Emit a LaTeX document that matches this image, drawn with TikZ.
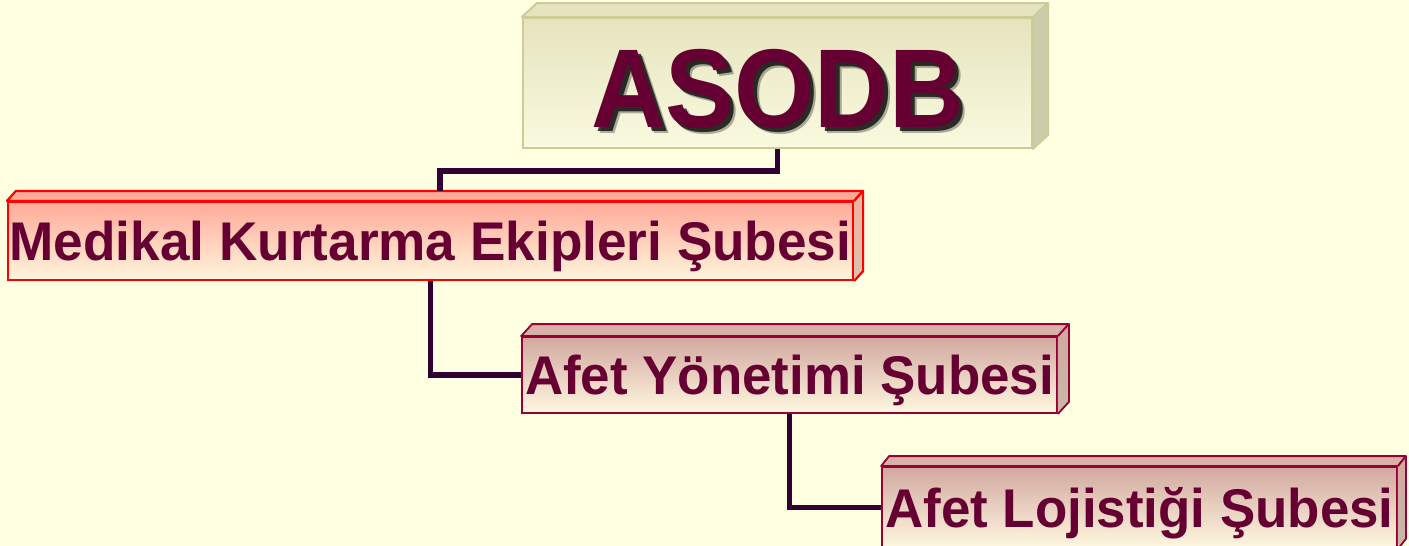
\documentclass[tikz,border=0pt]{standalone}
\usepackage{fontspec}
\setmainfont{Liberation Sans}
\usepackage{graphicx}
\usetikzlibrary{calc}
\definecolor{bgc}{HTML}{FFFFE1}
\definecolor{txtc}{HTML}{660033}
\definecolor{connc}{HTML}{330033}
\definecolor{oliveb}{HTML}{CCCC99}
\definecolor{olivetop}{HTML}{E6E4BE}
\definecolor{olivebot}{HTML}{FAFAE0}
\definecolor{oliveside}{HTML}{CCCCAA}
\definecolor{redb}{HTML}{FF0000}
\definecolor{saltop}{HTML}{FFAA99}
\definecolor{salbot}{HTML}{FFF6DC}
\definecolor{salside}{HTML}{D8C4B0}
\definecolor{wineb}{HTML}{990033}
\definecolor{rosetop}{HTML}{D2A8A0}
\definecolor{rosebot}{HTML}{FFF8E0}
\definecolor{roseside}{HTML}{C8B8A8}
\begin{document}
\begin{tikzpicture}[x=1pt,y=-1pt,
  conn/.style={draw=connc, line width=5.5pt, line join=miter},
  frontbox/.style={rectangle, inner sep=0pt, text=txtc,
     font=\bfseries\fontsize{54.5}{60}\selectfont, text height=39pt, text depth=0pt},
  asodbbox/.style={frontbox, draw=oliveb, line width=2pt, top color=olivetop, bottom color=olivebot},
  medbox/.style={frontbox, draw=redb, line width=2.2pt, top color=saltop, bottom color=salbot},
  rosebox/.style={frontbox, draw=wineb, line width=1.8pt, top color=rosetop, bottom color=rosebot},
  bigtext/.style={inner sep=0pt, font=\bfseries\fontsize{112}{120}\selectfont, text height=80pt, text depth=0pt}
]
\useasboundingbox (0,0) rectangle (1409,546);
\fill[bgc] (0,0) rectangle (1409,546);

% ASODB box
\node[asodbbox, minimum width=509pt, minimum height=130pt] (asodb) at (777.5,83) {};
\filldraw[fill=olivetop, draw=oliveb, line width=2pt, line join=round]
  (asodb.north west) -- ([shift={(15pt,14pt)}]asodb.north west) -- ([shift={(15pt,14pt)}]asodb.north east) -- (asodb.north east) -- cycle;
\filldraw[fill=oliveside, draw=oliveb, line width=2pt, line join=round]
  (asodb.north east) -- ([shift={(15pt,14pt)}]asodb.north east) -- ([shift={(15pt,14pt)}]asodb.south east) -- (asodb.south east) -- cycle;
\node[bigtext, text=black, opacity=0.3] (asodbshadowb) at ([shift={(6pt,-10pt)}]asodb.center) {\scalebox{0.92}[1]{ASODB}};
\node[bigtext, text=black, opacity=0.75] (asodbshadow) at ([shift={(4pt,-8pt)}]asodb.center) {\scalebox{0.92}[1]{ASODB}};
\node[bigtext, text=txtc] (asodbtext) at ([yshift=-4pt]asodb.center) {\scalebox{0.92}[1]{ASODB}};

% Medikal box
\node[medbox, minimum width=845pt, minimum height=78pt] (med) at (430.5,241) {\scalebox{0.975}[1]{Medikal Kurtarma Ekipleri Şubesi}};
\filldraw[fill=saltop, draw=redb, line width=2.2pt, line join=round]
  (med.north west) -- ([shift={(9pt,10pt)}]med.north west) -- ([shift={(9pt,10pt)}]med.north east) -- (med.north east) -- cycle;
\shade[top color=saltop!80!salside, bottom color=salside]
  (med.north east) -- ([shift={(9pt,10pt)}]med.north east) -- ([shift={(9pt,10pt)}]med.south east) -- (med.south east) -- cycle;
\draw[draw=redb, line width=2.2pt, line join=round]
  (med.north east) -- ([shift={(9pt,10pt)}]med.north east) -- ([shift={(9pt,10pt)}]med.south east) -- (med.south east);

% Afet Yonetimi box
\node[rosebox, minimum width=535pt, minimum height=76pt] (ayon) at (789.5,375) {\scalebox{0.97}[1]{Afet Yönetimi Şubesi}};
\filldraw[fill=rosetop!90!white, draw=wineb, line width=1.8pt, line join=round]
  (ayon.north west) -- ([shift={(11pt,12pt)}]ayon.north west) -- ([shift={(11pt,12pt)}]ayon.north east) -- (ayon.north east) -- cycle;
\shade[top color=rosetop, bottom color=roseside]
  (ayon.north east) -- ([shift={(11pt,12pt)}]ayon.north east) -- ([shift={(11pt,12pt)}]ayon.south east) -- (ayon.south east) -- cycle;
\draw[draw=wineb, line width=1.8pt, line join=round]
  (ayon.north east) -- ([shift={(11pt,12pt)}]ayon.north east) -- ([shift={(11pt,12pt)}]ayon.south east) -- (ayon.south east);

% Afet Lojistigi box
\node[rosebox, minimum width=515pt, minimum height=81pt] (aloj) at (1139.5,507.5) {\scalebox{0.97}[1]{Afet Lojistiği Şubesi}};
\filldraw[fill=rosetop!90!white, draw=wineb, line width=1.8pt, line join=round]
  (aloj.north west) -- ([shift={(8pt,10pt)}]aloj.north west) -- ([shift={(8pt,10pt)}]aloj.north east) -- (aloj.north east) -- cycle;
\shade[top color=rosetop, bottom color=roseside]
  (aloj.north east) -- ([shift={(8pt,10pt)}]aloj.north east) -- ([shift={(8pt,10pt)}]aloj.south east) -- (aloj.south east) -- cycle;
\draw[draw=wineb, line width=1.8pt, line join=round]
  (aloj.north east) -- ([shift={(8pt,10pt)}]aloj.north east) -- ([shift={(8pt,10pt)}]aloj.south east) -- (aloj.south east);

% connectors
\draw[conn] (asodb.south) -- ++(0,22) -| ([shift={(9.5pt,10pt)}]med.north);
\draw[conn] (med.south) |- (ayon.west);
\draw[conn] (ayon.south) |- (aloj.west);
\end{tikzpicture}
\end{document}
